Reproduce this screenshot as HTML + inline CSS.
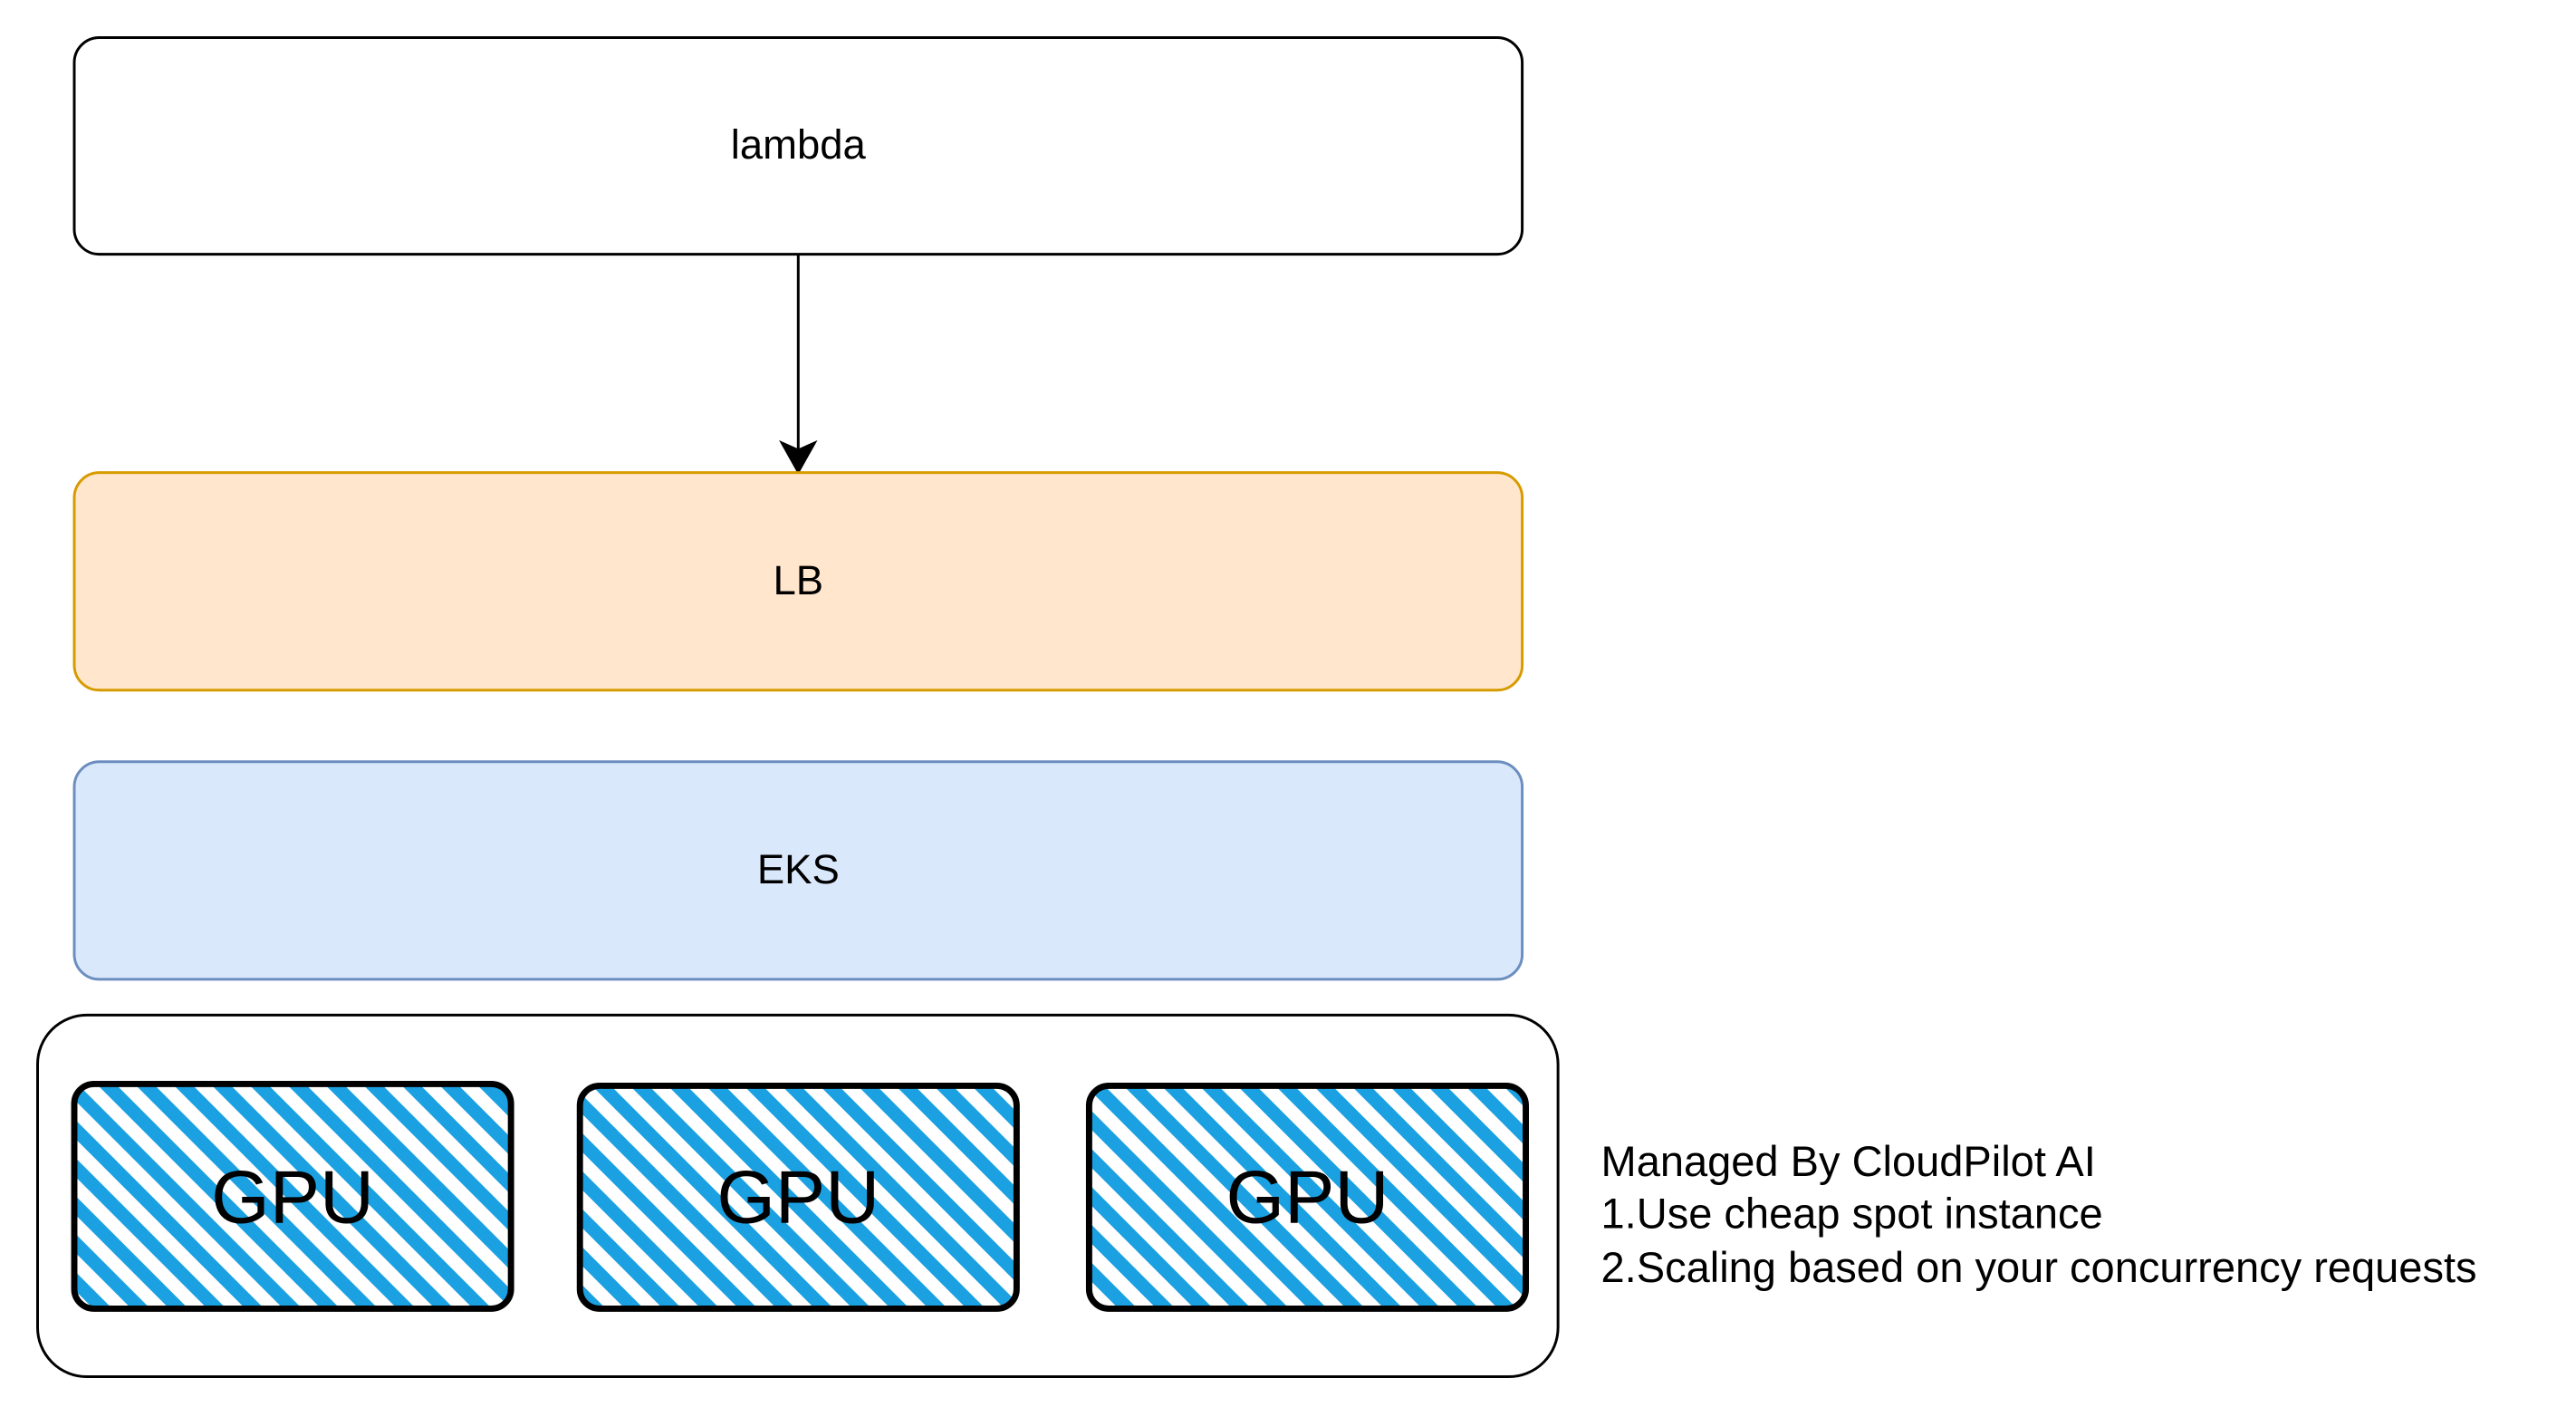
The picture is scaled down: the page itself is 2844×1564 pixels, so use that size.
<!DOCTYPE html>
<html><head><meta charset="utf-8"><style>
html,body{margin:0;padding:0;background:#fff;}
svg{display:block;}
text{font-family:"Liberation Sans",Helvetica,Arial,sans-serif;}
</style></head><body>
<svg width="2844" height="1564" viewBox="0 0 2844 1564" xmlns="http://www.w3.org/2000/svg">
<defs>
<pattern id="hatch" patternUnits="userSpaceOnUse" width="30" height="30" patternTransform="rotate(-45)">
<rect x="0" y="0" width="15" height="30" fill="#1ba1e2"/>
</pattern>
</defs>
<g transform="scale(0.988)">
<g>
<rect x="83" y="42" width="1618" height="242" rx="28" fill="#fff" stroke="#000" stroke-width="3"/>
<text x="892" y="177" font-size="46" text-anchor="middle">lambda</text>
</g>
<g>
<line x1="892" y1="284" x2="892" y2="505" stroke="#000" stroke-width="3"/>
<path d="M874 495 L892 527 L910 495 L892 503 Z" fill="#000" stroke="#000" stroke-width="3"/>
</g>
<g>
<rect x="83" y="528" width="1618" height="243" rx="28" fill="#ffe6cc" stroke="#d79b00" stroke-width="3"/>
<text x="892" y="664" font-size="46" text-anchor="middle">LB</text>
</g>
<g>
<rect x="83" y="851" width="1618" height="243" rx="28" fill="#dae8fc" stroke="#6c8ebf" stroke-width="3"/>
<text x="892" y="987" font-size="46" text-anchor="middle">EKS</text>
</g>
<g>
<rect x="42" y="1134" width="1699" height="404" rx="55" fill="#fff" stroke="#000" stroke-width="3"/>
</g>
<g>
<rect x="83" y="1211" width="488" height="251" rx="22" fill="url(#hatch)" stroke="#000" stroke-width="7"/>
<text x="327" y="1366" font-size="84" text-anchor="middle">GPU</text>
</g>
<g>
<rect x="648" y="1213" width="488" height="249" rx="22" fill="url(#hatch)" stroke="#000" stroke-width="7"/>
<text x="892" y="1366" font-size="84" text-anchor="middle">GPU</text>
</g>
<g>
<rect x="1217" y="1213" width="488" height="249" rx="22" fill="url(#hatch)" stroke="#000" stroke-width="7"/>
<text x="1461" y="1366" font-size="84" text-anchor="middle">GPU</text>
</g>
<g>
<text x="1789" y="1314" font-size="47.6">Managed By CloudPilot AI</text>
<text x="1789" y="1372" font-size="47.6">1.Use cheap spot instance</text>
<text x="1789" y="1432" font-size="47.6">2.Scaling based on your concurrency requests</text>
</g>
</g>
</svg>
</body></html>
